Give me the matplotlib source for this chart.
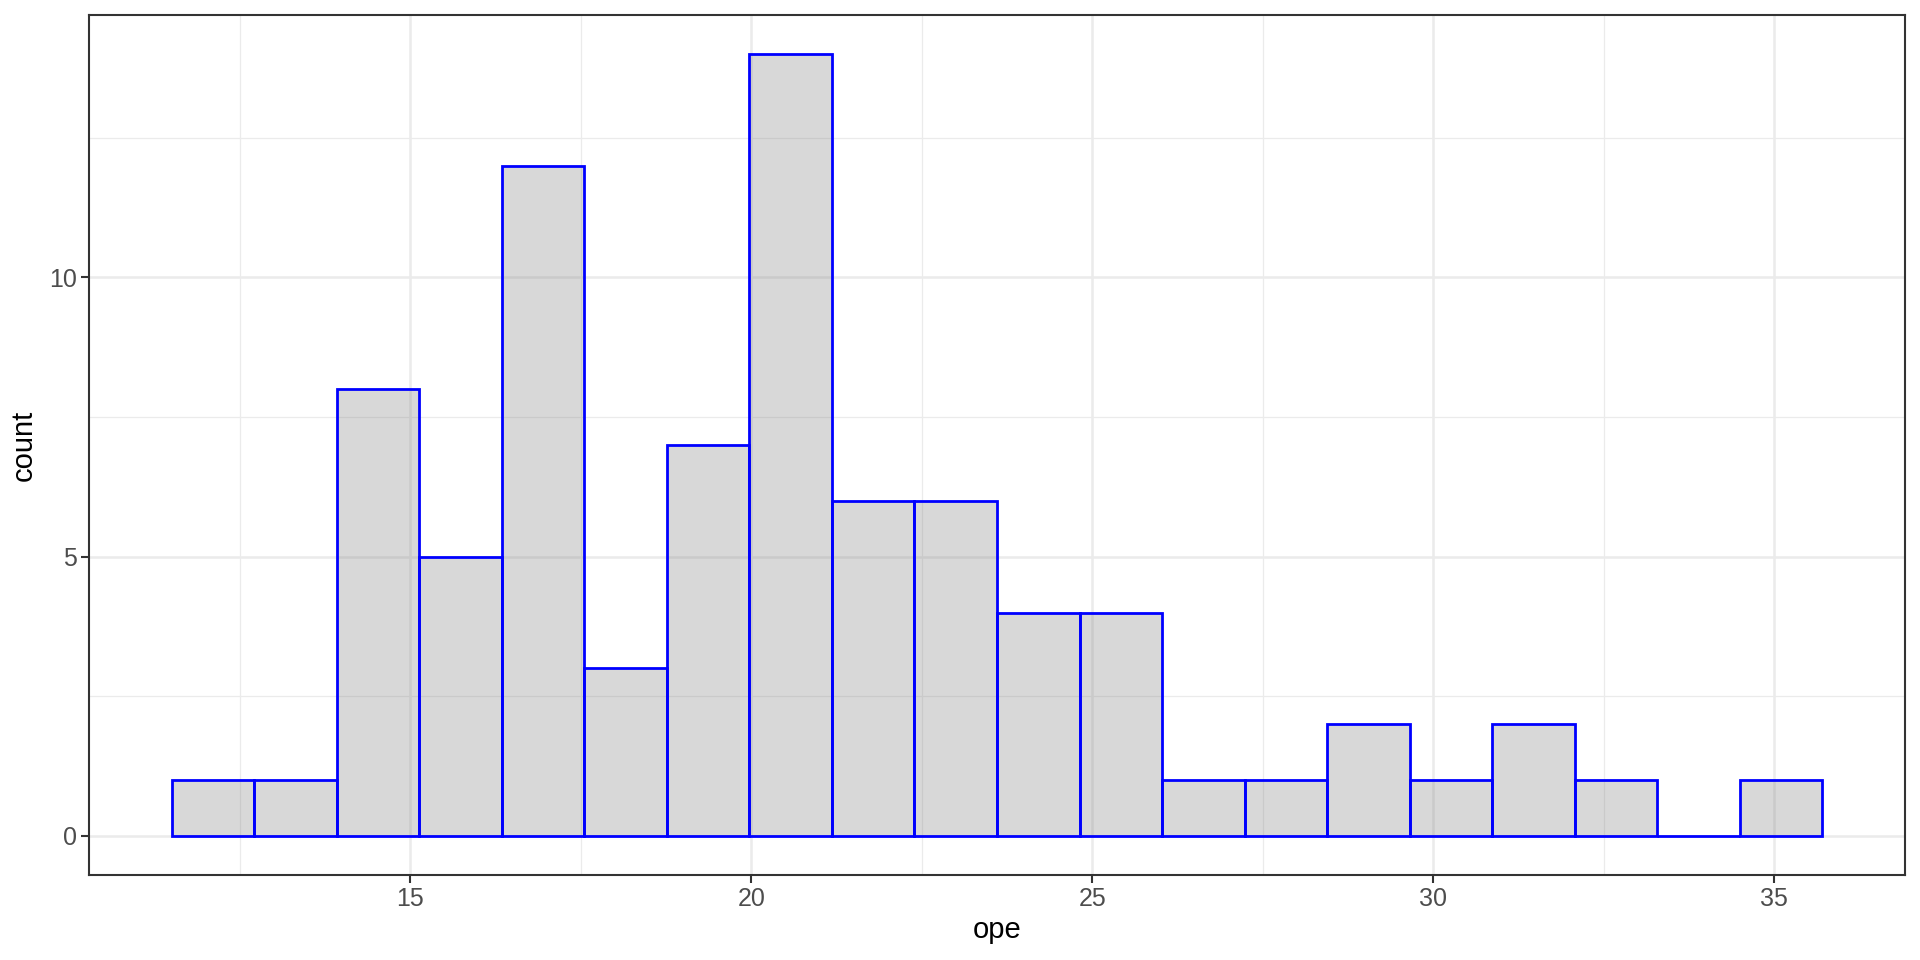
import numpy as np
import matplotlib as mpl
import matplotlib.pyplot as plt

# histogram of ope, 20 bins
bin_lo = 11.497
bin_width = 1.2106
counts = [1, 1, 8, 5, 12, 3, 7, 14, 6, 6, 4, 4, 1, 1, 2, 1, 2, 1, 0, 1]
x_major = [15, 20, 25, 30, 35]
x_minor = [12.5, 17.5, 22.5, 27.5, 32.5]
y_major = [0, 5, 10]
y_minor = [2.5, 7.5, 12.5]

edges = bin_lo + bin_width * np.arange(len(counts) + 1)

mpl.rcParams['font.family'] = ['Liberation Sans', 'DejaVu Sans']

dpi = 100
fig = plt.figure(dpi=dpi, figsize=(1920 / dpi, 960 / dpi))
ax = fig.add_axes([89 / 1920, 85 / 960, (1905 - 89) / 1920, (875 - 15) / 960])

span = edges[-1] - edges[0]
ax.set_xlim(edges[0] - 0.05 * span, edges[-1] + 0.05 * span)
ymax = max(counts)
ax.set_ylim(-0.05 * ymax, ymax * 1.05)

ax.set_xticks(x_major)
ax.set_xticks(x_minor, minor=True)
ax.set_yticks(y_major)
ax.set_yticks(y_minor, minor=True)
ax.grid(which='major', color='#EBEBEB', linewidth=1.8, zorder=0)
ax.grid(which='minor', color='#EBEBEB', linewidth=0.9, zorder=0)
ax.set_axisbelow(True)

ax.bar(edges[:-1], counts, width=bin_width, align='edge',
       facecolor=(0.5, 0.5, 0.5, 0.3), edgecolor='blue', linewidth=2.0, zorder=2)

for s in ax.spines.values():
    s.set_color('#333333')
    s.set_linewidth(1.5)

ax.tick_params(which='major', length=5.5, width=1.5, color='#333333',
               labelsize=18, labelcolor='#4D4D4D', pad=3)
ax.tick_params(which='minor', length=0)

ax.set_xlabel('ope', fontsize=21, labelpad=4)
ax.set_ylabel('count', fontsize=21, labelpad=8)

fig.savefig('out.png', dpi=dpi)
